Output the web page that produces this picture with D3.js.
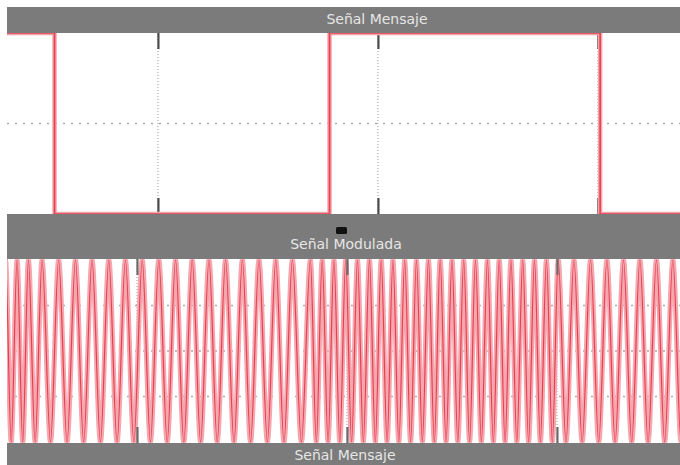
<!DOCTYPE html>
<html>
<head>
<meta charset="utf-8">
<script src="https://cdn.jsdelivr.net/npm/d3@7/dist/d3.min.js"></script>
<style>
  html, body { margin: 0; padding: 0; background: #fff; }
  svg { display: block; }
  .bar-title { font-family: "DejaVu Sans", sans-serif; font-size: 14px; fill: #e6e6e6; }
</style>
</head>
<body>
<svg id="scope" width="680" height="465"></svg>
<script>
// ---- Data ----------------------------------------------------------------
// Panel titles
const titles = ["Señal Mensaje", "Señal Modulada", "Señal Mensaje"];

// Visible time windows of the two scope panels (ms)
const messageWindow = [0.314, 3.373];
const modulatedWindow = [0.381, 3.586];

// Grid / tick times shared by both panels
const gridTimes = [1, 2, 3];

// Binary message: switching instants and levels held after each instant
const messageTimes = [0.314, 0.53, 1.78, 3.01, 3.373];
const messageLevels = [1, 0, 1, 0, 0];

// FSK carrier: instants of the positive crests and of the negative troughs
const carrierCrests = [
  0.319, 0.374, 0.429, 0.483, 0.548, 0.627, 0.707, 0.786, 0.866, 0.945,
  1.025, 1.104, 1.184, 1.263, 1.343, 1.422, 1.502, 1.581, 1.661, 1.740,
  1.826, 1.882, 1.938, 1.994, 2.050, 2.107, 2.163, 2.219, 2.275, 2.331,
  2.388, 2.444, 2.500, 2.556, 2.612, 2.669, 2.725, 2.781, 2.837, 2.893,
  2.950, 3.006, 3.081, 3.160, 3.238, 3.317, 3.395, 3.474, 3.552, 3.631
];
const carrierTroughs = [
  0.346, 0.401, 0.456, 0.515, 0.588, 0.667, 0.746, 0.826, 0.905, 0.985,
  1.064, 1.144, 1.223, 1.303, 1.382, 1.462, 1.541, 1.621, 1.700, 1.783,
  1.854, 1.910, 1.966, 2.022, 2.078, 2.135, 2.191, 2.247, 2.303, 2.359,
  2.416, 2.472, 2.528, 2.584, 2.640, 2.697, 2.753, 2.809, 2.865, 2.921,
  2.978, 3.043, 3.120, 3.199, 3.277, 3.356, 3.434, 3.513, 3.591
];
const carrierAmplitude = 1;

// ---- Layout --------------------------------------------------------------
const svg = d3.select("#scope");
const left = 7, right = 680;
const bars = [
  { y0: 7,   y1: 33 },
  { y0: 214, y1: 259 },
  { y0: 443, y1: 475 }
];
const panel1 = { y0: 33, y1: 214 };
const panel2 = { y0: 259, y1: 443 };

const gray = "#7b7b7b";
const red = "#e8404f";

// ---- Scales --------------------------------------------------------------
const x1 = d3.scaleLinear().domain(messageWindow).range([left, right]);
const y1 = d3.scaleLinear().domain([0, 1]).range([panel1.y1, panel1.y0]);
const x2 = d3.scaleLinear().domain(modulatedWindow).range([left, right]);
const y2 = d3.scaleLinear().domain([-1, 1]).range([panel2.y1 - 1, panel2.y0 + 1]);

// ---- Helpers -------------------------------------------------------------
function drawGrid(g, x, y, yTicks, panel) {
  g.append("rect")
    .attr("x", left).attr("y", panel.y0)
    .attr("width", right - left).attr("height", panel.y1 - panel.y0)
    .attr("fill", "#fff");

  g.selectAll(".vgrid").data(gridTimes).join("line")
    .attr("x1", d => x(d)).attr("x2", d => x(d))
    .attr("y1", panel.y0).attr("y2", panel.y1)
    .attr("stroke", "#9a9a9a").attr("stroke-width", 1)
    .attr("stroke-dasharray", "1,2");

  g.selectAll(".hgrid").data(yTicks).join("line")
    .attr("x1", left).attr("x2", right)
    .attr("y1", d => y(d)).attr("y2", d => y(d))
    .attr("stroke", "#ababab").attr("stroke-width", 1.5)
    .attr("stroke-dasharray", "2,6");
}

function drawTicks(g, x, panel, color) {
  const topAxis = d3.axisBottom(x).tickValues(gridTimes).tickSize(16).tickFormat("");
  const botAxis = d3.axisTop(x).tickValues(gridTimes).tickSize(16).tickFormat("");
  const a = g.append("g").attr("transform", `translate(0,${panel.y0})`).call(topAxis);
  const b = g.append("g").attr("transform", `translate(0,${panel.y1})`).call(botAxis);
  [a, b].forEach(s => {
    s.select(".domain").remove();
    s.selectAll(".tick line").attr("stroke", color).attr("stroke-width", 2.2);
  });
}

// ---- Panel 1: message ----------------------------------------------------
const g1 = svg.append("g");
drawGrid(g1, x1, y1, [0.5], panel1);
drawTicks(g1, x1, panel1, "#4a4a4a");

const messagePoints = messageTimes.map((t, i) => [t, messageLevels[i]]);
const stepLine = d3.line()
  .x(d => x1(d[0])).y(d => y1(d[1]))
  .curve(d3.curveStepAfter);

g1.append("path").datum(messagePoints)
  .attr("d", stepLine)
  .attr("fill", "none")
  .attr("stroke", "#f5a3ac").attr("stroke-width", 4.5);
g1.append("path").datum(messagePoints)
  .attr("d", stepLine)
  .attr("fill", "none")
  .attr("stroke", red).attr("stroke-width", 1.6);

// ---- Panel 2: FSK modulated carrier --------------------------------------
const g2 = svg.append("g");
drawGrid(g2, x2, y2, [-0.5, 0, 0.5], panel2);

const carrierPoints = carrierCrests.map(t => [t, carrierAmplitude])
  .concat(carrierTroughs.map(t => [t, -carrierAmplitude]))
  .sort((a, b) => a[0] - b[0]);

svg.append("clipPath").attr("id", "clip2")
  .append("rect").attr("x", left).attr("y", panel2.y0)
  .attr("width", right - left).attr("height", panel2.y1 - panel2.y0);

const waveLine = d3.line()
  .x(d => x2(d[0])).y(d => y2(d[1]))
  .curve(d3.curveMonotoneX);

const waveG = g2.append("g").attr("clip-path", "url(#clip2)");
waveG.append("path").datum(carrierPoints)
  .attr("d", waveLine)
  .attr("fill", "none")
  .attr("stroke", "#f5a7b0").attr("stroke-width", 5);
waveG.append("path").datum(carrierPoints)
  .attr("d", waveLine)
  .attr("fill", "none")
  .attr("stroke", red).attr("stroke-width", 1.2);

drawTicks(g2, x2, panel2, "#6a6a6a");

// ---- Title bars ----------------------------------------------------------
const barG = svg.append("g");
barG.selectAll("rect").data(bars).join("rect")
  .attr("x", left).attr("y", d => d.y0)
  .attr("width", right - left).attr("height", d => d.y1 - d.y0)
  .attr("fill", gray);

// small marker in the middle bar
barG.append("rect")
  .attr("x", 336).attr("y", 227).attr("width", 11).attr("height", 7)
  .attr("rx", 1.5).attr("fill", "#111");

const titlePos = [
  { x: 377, y: 24 },
  { x: 346, y: 249 },
  { x: 345, y: 460 }
];
barG.selectAll("text").data(titles).join("text")
  .attr("class", "bar-title")
  .attr("x", (d, i) => titlePos[i].x)
  .attr("y", (d, i) => titlePos[i].y)
  .attr("text-anchor", "middle")
  .text(d => d);
</script>
</body>
</html>
